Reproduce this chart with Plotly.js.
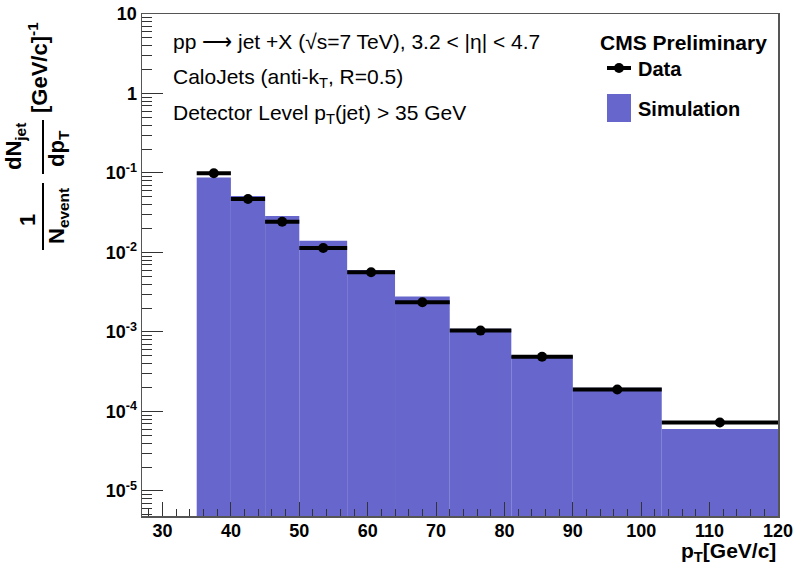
<!DOCTYPE html>
<html>
<head>
<meta charset="utf-8">
<script src="https://cdn.plot.ly/plotly-3.0.1.min.js"></script>
<style>html,body{margin:0;padding:0;background:#fff;}#chart{width:796px;height:566px;}</style>
</head>
<body>
<div id="chart"></div>
<script>
// ---- data ----
const binEdges = [35, 40, 45, 50, 57, 64, 72, 81, 90, 103, 120];
const dataValues = [0.099, 0.047, 0.0243, 0.0114, 0.00565, 0.00237, 0.00104, 0.000488, 0.000189, 0.0000726];
const dataErrors = [0.0015, 0.0007, 0.0004, 0.0002, 0.0001, 0.00004, 0.00002, 0.00001, 0.000005, 0.000009];
const simValues = [0.088, 0.0513, 0.0287, 0.0140, 0.0060, 0.0028, 0.00110, 0.000498, 0.000199, 0.0000600];
const yTickVals = [1e-5, 1e-4, 1e-3, 1e-2, 1e-1, 1, 10];
const yTickText = ['10<sup>-5</sup>', '10<sup>-4</sup>', '10<sup>-3</sup>', '10<sup>-2</sup>', '10<sup>-1</sup>', '1', '10'];

// ---- derived ----
const centers = [], widths = [], halfW = [];
for (let i = 0; i < binEdges.length - 1; i++) {
  centers.push((binEdges[i] + binEdges[i + 1]) / 2);
  widths.push(binEdges[i + 1] - binEdges[i]);
  halfW.push((binEdges[i + 1] - binEdges[i]) / 2);
}
const minorVals = [];
for (let k = -6; k <= 0; k++) for (let d = 2; d <= 9; d++) minorVals.push(d * Math.pow(10, k));

// layout helpers (pixel -> paper)
const L = 142, R = 18, T = 14, B = 50, W = 796, H = 566;
const PW = W - L - R, PH = H - T - B;
const px = v => (v - L) / PW;
const py = v => 1 - (v - T) / PH;

const FONT = 'Liberation Sans, Arial, Helvetica, sans-serif';
const simColor = '#6666cc';

const traces = [
  {
    type: 'bar', x: centers, y: simValues, width: widths,
    marker: { color: simColor, line: { width: 0 } },
    showlegend: false, hoverinfo: 'x+y'
  },
  {
    type: 'scatter', mode: 'markers', x: centers, y: dataValues,
    marker: { color: 'black', size: 10 },
    error_x: { type: 'data', array: halfW, color: 'black', thickness: 4, width: 0 },
    error_y: { type: 'data', array: dataErrors, color: 'black', thickness: 2.5, width: 0 },
    showlegend: false
  }
];

const yTitleFont = { family: FONT, size: 22, color: 'black', weight: 700 };
const textFont = { family: FONT, size: 21, color: 'black' };
const legFont = { family: FONT, size: 20, color: 'black', weight: 700 };
const ann = (text, x, y, opts) => Object.assign({
  text, x: px(x), y: py(y), xref: 'paper', yref: 'paper', showarrow: false,
  xanchor: 'center', yanchor: 'middle'
}, opts || {});

const annotations = [
  // top text block
  ann('pp \u27F6 jet +X (\u221As=7 TeV), 3.2 < |\u03b7| < 4.7', 171, 42, { xanchor: 'left', font: textFont }),
  ann('CaloJets (anti-k<sub>T</sub>, R=0.5)', 171, 78, { xanchor: 'left', font: textFont }),
  ann('Detector Level p<sub>T</sub>(jet) > 35 GeV', 171, 114, { xanchor: 'left', font: textFont }),
  // legend
  ann('CMS Preliminary', 598, 43, { xanchor: 'left', font: { family: FONT, size: 21, color: 'black', weight: 700 } }),
  ann('Data', 636, 69, { xanchor: 'left', font: legFont }),
  ann('Simulation', 636, 109, { xanchor: 'left', font: legFont }),
  // x title
  ann('p<sub>T</sub>[GeV/c]', 777, 566, { xanchor: 'right', yanchor: 'bottom', borderpad: 0, font: { family: FONT, size: 21, color: 'black', weight: 700 } }),
  // y title pieces (rotated)
  ann('1', 27, 220, { textangle: -90, font: yTitleFont }),
  ann('N<sub>event</sub>', 58, 216, { textangle: -90, font: yTitleFont }),
  ann('dN<sub>jet</sub>', 15, 147, { textangle: -90, borderpad: 0, font: yTitleFont }),
  ann('dp<sub>T</sub>', 58, 149, { textangle: -90, font: yTitleFont }),
  ann('[GeV/c]<sup>-1</sup>', 38, 68, { textangle: -90, font: yTitleFont })
];

const shapes = [
  // fraction bars in y title
  { type: 'line', xref: 'paper', yref: 'paper', x0: px(43), x1: px(43), y0: py(183), y1: py(250), line: { color: 'black', width: 2 } },
  { type: 'line', xref: 'paper', yref: 'paper', x0: px(43), x1: px(43), y0: py(120), y1: py(174), line: { color: 'black', width: 2 } },
  // legend symbols
  { type: 'line', xref: 'paper', yref: 'paper', x0: px(607), x1: px(631), y0: py(68), y1: py(68), line: { color: 'black', width: 4 } },
  { type: 'circle', xref: 'paper', yref: 'paper', x0: px(614), x1: px(624), y0: py(63), y1: py(73), fillcolor: 'black', line: { color: 'black', width: 0 } },
  { type: 'rect', xref: 'paper', yref: 'paper', x0: px(607), x1: px(631), y0: py(94), y1: py(122), fillcolor: simColor, line: { width: 0 } }
];

const layout = {
  width: W, height: H,
  margin: { l: L, r: R, t: T, b: B, pad: 0 },
  paper_bgcolor: 'white', plot_bgcolor: 'white',
  showlegend: false,
  barmode: 'overlay',
  xaxis: {
    range: [27, 120], dtick: 10, tick0: 0,
    ticks: 'inside', ticklen: 14, tickwidth: 1, tickcolor: '#333',
    ticklabelstandoff: -2,
    minor: { dtick: 2, ticks: 'inside', ticklen: 7, tickcolor: '#333', tickwidth: 1 },
    showline: true, linecolor: '#555', linewidth: 1.5, mirror: true,
    showgrid: false, zeroline: false,
    tickfont: { family: FONT, size: 18, color: 'black', weight: 700 }
  },
  yaxis: {
    type: 'log', range: [-5.315, 1],
    tickmode: 'array', tickvals: yTickVals, ticktext: yTickText,
    ticks: 'inside', ticklen: 21, tickwidth: 1, tickcolor: '#333',
    minor: { tickmode: 'array', tickvals: minorVals, ticks: 'inside', ticklen: 10, tickcolor: '#333', tickwidth: 1 },
    showline: true, linecolor: '#555', linewidth: 1.5, mirror: true,
    showgrid: false, zeroline: false,
    tickfont: { family: FONT, size: 18, color: 'black', weight: 700 }
  },
  annotations, shapes
};

Plotly.newPlot('chart', traces, layout, { displayModeBar: false, staticPlot: true });
</script>
</body>
</html>
